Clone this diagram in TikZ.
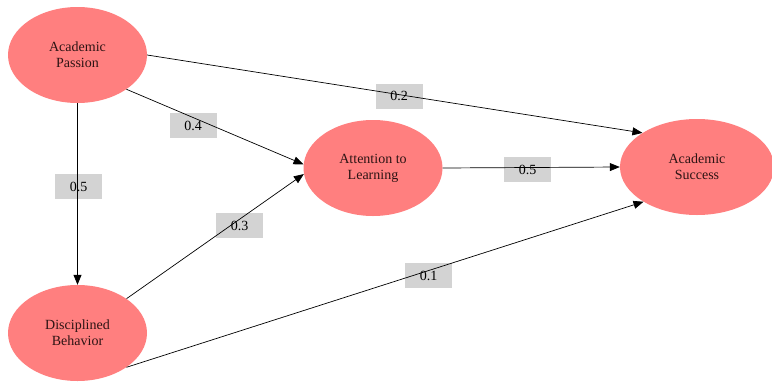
\documentclass[tikz,border=0pt]{standalone}
\usepackage{fontspec}
\setmainfont{Liberation Serif}
\usetikzlibrary{shapes.geometric,arrows.meta}
\definecolor{salmon}{RGB}{255,127,127}
\definecolor{coefgray}{RGB}{211,211,211}
\begin{document}
\begin{tikzpicture}[x=1pt,y=-1pt,
  construct/.style={ellipse,fill=salmon,minimum width=139pt,minimum height=96pt,inner sep=0pt,align=center,font=\fontsize{14}{16}\selectfont,text={rgb,255:red,45;green,20;blue,20}},
  coef/.style={fill=coefgray,minimum width=47pt,minimum height=25pt,inner sep=0pt,font=\fontsize{14}{15}\selectfont},
  link/.style={-{Triangle[length=10pt,width=8pt]},line width=0.7pt}]
\useasboundingbox (0,0) rectangle (772,381);
\node[coef] (c1) at (399,96) {\raisebox{-2pt}{0.2}};
\node[coef] (c2) at (193,125.5) {\raisebox{-2pt}{0.4}};
\node[coef] (c3) at (78.5,186.5) {\raisebox{-2pt}{0.5}};
\node[coef] (c4) at (239.5,225.5) {\raisebox{-2pt}{0.3}};
\node[coef] (c5) at (527.5,169.5) {\raisebox{-2pt}{0.5}};
\node[coef] (c6) at (428.5,275.5) {\raisebox{-2pt}{0.1}};
\node[construct] (ap) at (77.5,55) {Academic\\Passion};
\node[construct] (db) at (77.5,333) {Disciplined\\Behavior};
\node[construct] (al) at (373,168) {Attention to\\Learning};
\node[construct,minimum width=154pt] (as) at (697,167) {Academic\\Success};
\draw[link] (ap.east) -- (as.148);
\draw[link] (ap.-35) -- (al.177);
\draw[link] (ap.south) -- (db.north);
\draw[link] (db.35) -- (al.185);
\draw[link] (db.-35) -- (as.213);
\draw[link] (al.east) -- (as.west);
\end{tikzpicture}
\end{document}
